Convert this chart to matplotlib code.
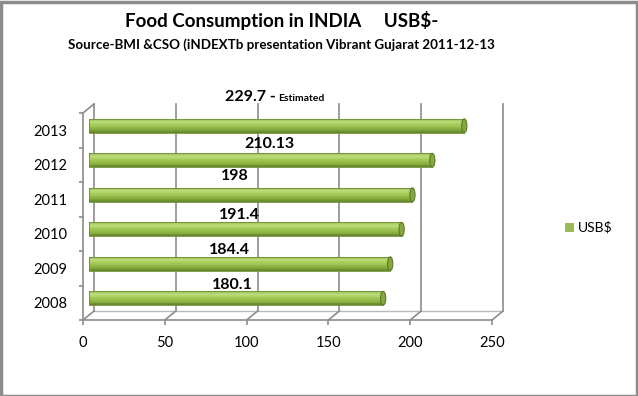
import numpy as np
import matplotlib
matplotlib.use("Agg")
import matplotlib.pyplot as plt
from matplotlib.transforms import offset_copy
from matplotlib.patches import ConnectionPatch, Ellipse, Rectangle

# ---- data ----
years = ["2008", "2009", "2010", "2011", "2012", "2013"]
values = [180.1, 184.4, 191.4, 198, 210.13, 229.7]
value_labels = ["180.1", "184.4", "191.4", "198", "210.13", "229.7 -"]
x_ticks = [0, 50, 100, 150, 200, 250]
series_name = "USB$"
title = "Food Consumption in INDIA     USB$-"
subtitle = "Source-BMI &CSO (iNDEXTb presentation Vibrant Gujarat 2011-12-13"
note = "Estimated"

# ---- layout ----
plt.rcParams['font.family'] = ['Lato', 'DejaVu Sans']
W, H = 638, 396
fig = plt.figure(figsize=(W / 100, H / 100), dpi=100)
fig.patch.set_facecolor("white")

# outer border
fig.add_artist(Rectangle((0.5 / W, 0.5 / H), 1 - 2 / W, 1 - 2.5 / H, transform=fig.transFigure,
                         fill=False, edgecolor="#8c8c8c", linewidth=2.5))

left, right, bottom, top = 83, 492, 320, 113
ax = fig.add_axes([left / W, 1 - bottom / H, (right - left) / W, (bottom - top) / H])
ax.set_xlim(0, 250)
ax.set_ylim(0, 6)
ax.patch.set_alpha(0)
for s in ["top", "right"]:
    ax.spines[s].set_visible(False)
grid_c = "#8c8c8c"
for s in ["left", "bottom"]:
    ax.spines[s].set_color(grid_c)
    ax.spines[s].set_linewidth(1.2)
    ax.spines[s].set_zorder(0.5)

DX, DY = 11, 9
back = offset_copy(ax.transData, fig=fig, x=DX, y=DY, units='dots')
mid = offset_copy(ax.transData, fig=fig, x=DX / 2, y=DY / 2, units='dots')

# back wall gridlines
for xv in x_ticks:
    ax.plot([xv, xv], [0, 6], color=grid_c, lw=1.2, transform=back, clip_on=False, zorder=0.5)
    con = ConnectionPatch(xyA=(xv, 0), coordsA=ax.transData, xyB=(xv, 0), coordsB=back,
                          color=grid_c, lw=1.2, zorder=0.5)
    fig.add_artist(con)
ax.plot([0, 250], [0, 0], color=grid_c, lw=1.0, transform=back, clip_on=False, alpha=0.6, zorder=0.5)
fig.add_artist(ConnectionPatch(xyA=(0, 6), coordsA=ax.transData, xyB=(0, 6), coordsB=back,
                               color=grid_c, lw=1.2, zorder=0.5))

# ticks
ax.set_xticks(x_ticks)
ax.set_xticklabels([str(t) for t in x_ticks], fontsize=10.5)
ypos = np.arange(len(years)) + 0.5
ax.set_yticks(ypos)
ax.set_yticklabels(years, fontsize=10.5)
ax.set_yticks(np.arange(len(years) + 1), minor=True)
ax.tick_params(axis='y', which='major', length=0, pad=11.5)
ax.tick_params(axis='y', which='minor', length=3, color=grid_c, width=1.2)
ax.tick_params(axis='x', which='major', length=3.6, color=grid_c, width=1.2, pad=8)

# cylinder bars via stacked slices
bar_h = 0.40
stops = np.array([[0.62, 0.76, 0.36], [0.74, 0.86, 0.48], [0.66, 0.80, 0.36],
                  [0.60, 0.75, 0.30], [0.52, 0.67, 0.24], [0.40, 0.53, 0.17]])
n = 16
fr = np.linspace(0, 1, n)
sp = np.linspace(0, 1, len(stops))
cols = np.stack([np.interp(fr, sp, stops[:, k]) for k in range(3)], axis=1)
for yc, v in zip(ypos, values):
    for i in range(n):
        y0 = yc + bar_h / 2 - (i + 1) * bar_h / n
        ax.barh(y0, v, height=bar_h / n, align='edge', color=cols[i], edgecolor='none',
                transform=mid, clip_on=False, zorder=2)
    ax.barh(yc, v, height=bar_h, color='none', edgecolor="#6f8f30", lw=0.6,
            transform=mid, clip_on=False, zorder=2.1)
    cap = Ellipse((v, yc), width=3.2, height=bar_h, facecolor="#86a640", edgecolor="#5f7a28",
                  lw=0.8, transform=mid, clip_on=False, zorder=2.2)
    ax.add_patch(cap)

# data labels
label_x = [88, 86, 92, 89.5, 110.5, 114.5]
label_dy = [-13, -13.5, -14, -18.5, -16, -28.5]
for yc, lx, dy, lab in zip(ypos, label_x, label_dy, value_labels):
    if lab.endswith("-"):
        ax.annotate(lab, xy=(lx, yc), xycoords=mid, xytext=(0, -dy), textcoords='offset pixels',
                    ha='right', va='center', fontsize=11.5, fontweight='bold', annotation_clip=False)
        ax.annotate(note, xy=(lx, yc), xycoords=mid, xytext=(2, -dy - 1), textcoords='offset pixels',
                    ha='left', va='center', fontsize=7.5, fontweight='bold', annotation_clip=False)
    else:
        ax.annotate(lab, xy=(lx, yc), xycoords=mid, xytext=(0, -dy), textcoords='offset pixels',
                    ha='center', va='center', fontsize=11.5, fontweight='bold', annotation_clip=False)

# titles
fig.text(281.5 / W, 1 - 20 / H, title, ha='center', va='center', fontsize=13.5, fontweight='bold')
fig.text(281 / W, 1 - 45 / H, subtitle, ha='center', va='center', fontsize=9.6, fontweight='bold')

# legend
fig.add_artist(Rectangle((565 / W, 1 - 232 / H), 9 / W, 9 / H, transform=fig.transFigure,
                         facecolor="#9bbb59", edgecolor='none'))
fig.text(578 / W, 1 - 227 / H, series_name, ha='left', va='center', fontsize=10)

fig.savefig("out.png", dpi=100)
